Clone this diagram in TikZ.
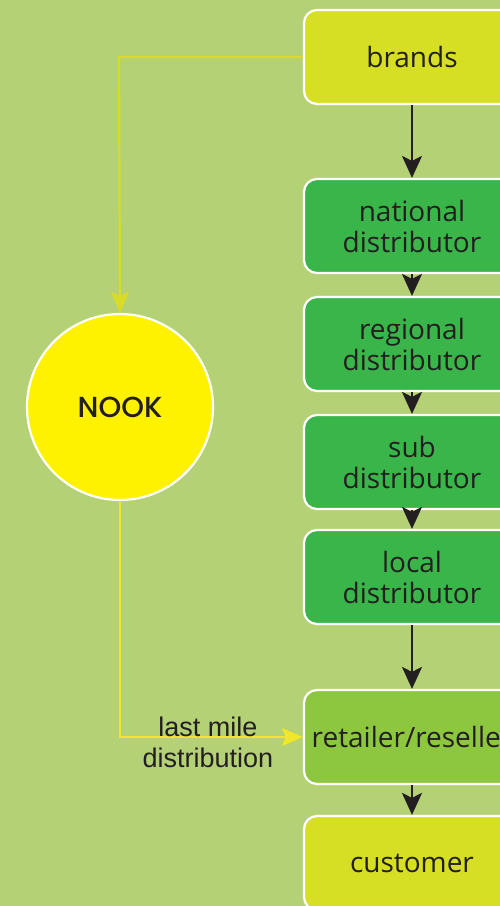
\documentclass[tikz,border=0pt]{standalone}
\usepackage{fontspec}
\setmainfont{Open Sans}
\newfontfamily\nookfont{Poppins Medium}
\newfontfamily\labfont{Liberation Sans}
\usetikzlibrary{arrows.meta,positioning}
\definecolor{bg}{HTML}{B5D176}
\definecolor{lime}{HTML}{D6DF23}
\definecolor{dgreen}{HTML}{39B54A}
\definecolor{mgreen}{HTML}{8DC63F}
\definecolor{nookyel}{HTML}{FFF200}
\definecolor{lineyel}{HTML}{F0E62A}
\definecolor{linelime}{HTML}{D8DC26}
\definecolor{ink}{HTML}{231F20}
\tikzset{
  stagebox/.style={draw=white, line width=2.2pt, rounded corners=13pt, minimum width=216pt, minimum height=94pt, align=center, font=\fontsize{28}{31}\selectfont, text=ink, inner sep=0pt},
  flow/.style={draw=ink, line width=2.3pt, -{Stealth[length=22pt,width=20pt,inset=5pt]}},
  yflow/.style={line width=2.2pt, -{Stealth[length=21pt,width=18pt,inset=4pt]}},
}
\begin{document}
\begin{tikzpicture}[x=1pt,y=-1pt]
\useasboundingbox (0,0) rectangle (500,906);
\clip (0,0) rectangle (500,906);
\fill[bg] (0,0) rectangle (500,906);
\node[stagebox, fill=lime] (brands) at (412,57) {brands};
\node[stagebox, fill=dgreen] (national) at (412,226) {national\\distributor};
\node[stagebox, fill=dgreen] (regional) at (412,344) {regional\\distributor};
\node[stagebox, fill=dgreen] (sub) at (412,462) {sub\\distributor};
\node[stagebox, fill=dgreen] (local) at (412,577) {local\\distributor};
\node[stagebox, fill=mgreen] (retailer) at (412,737) {retailer/reseller};
\node[stagebox, fill=lime] (customer) at (412,863) {customer};
\node[circle, draw=white, line width=2.2pt, fill=nookyel, minimum size=186pt, inner sep=0pt, text=ink, font=\nookfont\fontsize{29}{32}\selectfont] (nook) at (120,407) {NOOK};
\coordinate (corner) at (119,57);
\draw[flow] (brands) -- (national);
\draw[flow] (national) -- (regional);
\draw[flow] (regional) -- (sub);
\draw[flow] (sub) -- (local);
\draw[flow] (local) -- (retailer);
\draw[flow] (retailer) -- (customer);
\draw[yflow, draw=linelime] (brands.west) -- (corner) -- (nook.north);
\draw[yflow, draw=lineyel] (nook.south) |- (retailer.west);
\node[align=center, text=ink, font=\labfont\fontsize{27}{31}\selectfont] (lab) at (208,742) {last mile\\distribution};
\end{tikzpicture}
\end{document}
